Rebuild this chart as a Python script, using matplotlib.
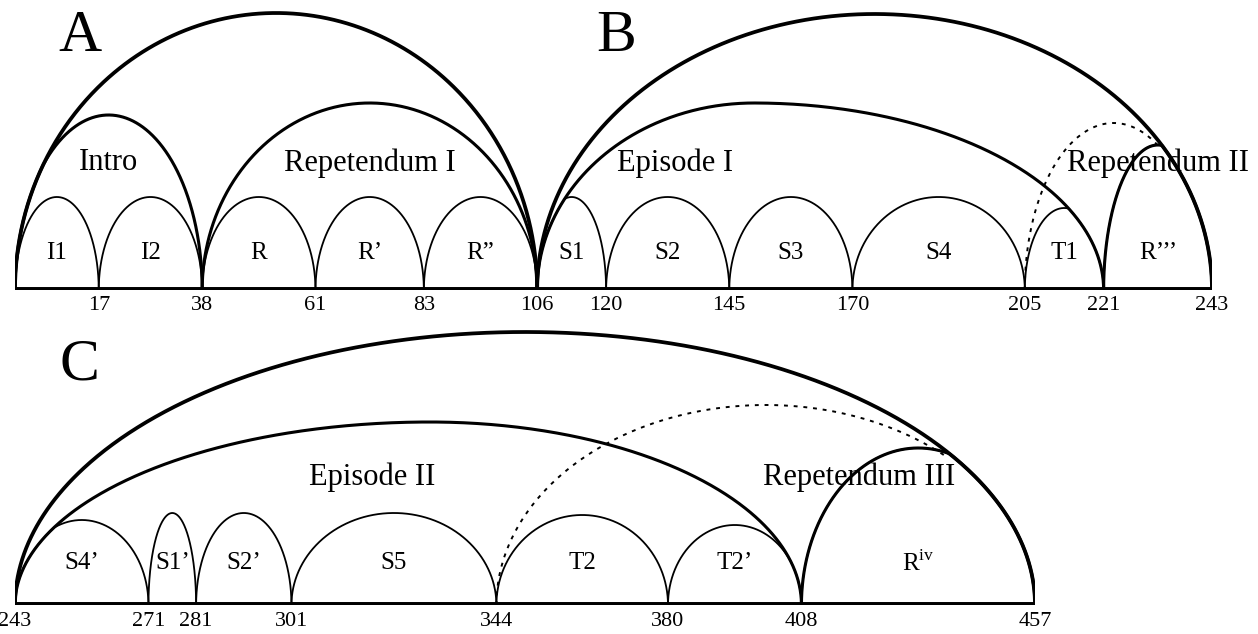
import numpy as np
import matplotlib.pyplot as plt

plt.rcParams['font.family'] = ['Liberation Serif', 'DejaVu Serif']
plt.rcParams['mathtext.fontset'] = 'custom'
plt.rcParams['mathtext.rm'] = 'Liberation Serif'

# ---- panels A/B : measures 0-243 ----
top_bounds = [0, 17, 38, 61, 83, 106, 120, 145, 170, 205, 221, 243]
top_small_labels = ['I1', 'I2', 'R', 'R’', 'R”', 'S1', 'S2', 'S3', 'S4', 'T1', 'R’’’']
top_small_heights = [93, 93, 93, 93, 93, 93, 93, 93, 93, 82, 145]
top_tick_labels = ['17', '38', '61', '83', '106', '120', '145', '170', '205', '221', '243']

top_sec_names = ['Intro', 'Repetendum I', 'Episode I', 'Repetendum II']
top_sec_start = [0, 38, 106, 221]
top_sec_end = [38, 106, 221, 243]
top_sec_height = [175, 187, 187, 145]
top_sec_apex = [19, 72, 150, 232]
top_sec_label_x = [19, 72, 134, 232]

top_outer_start = [0, 106]
top_outer_end = [106, 243]
top_outer_height = [277, 276]

top_dash = (205, 223, 167, 232)  # start, apex measure, apex height, end

# ---- panel C : measures 243-457 ----
bot_bounds = [243, 271, 281, 301, 344, 380, 408, 457]
bot_small_labels = ['S4’', 'S1’', 'S2’', 'S5', 'T2', 'T2’', 'R$^{\\mathrm{iv}}$']
bot_small_heights = [85, 92, 92, 92, 90, 80, 157]
bot_tick_labels = ['243', '271', '281', '301', '344', '380', '408', '457']

bot_sec_names = ['Episode II', 'Repetendum III']
bot_sec_start = [243, 408]
bot_sec_end = [408, 457]
bot_sec_height = [183, 157]
bot_sec_apex = [330, 432.5]
bot_sec_label_x = [318, 420]

bot_outer_start = [243]
bot_outer_end = [457]
bot_outer_height = [273]

bot_dash = (344, 400.5, 200, 438.5)


def arc_y(x, s, e, h, p=None):
    if p is None:
        p = (s + e) / 2
    a = np.where(x < p, p - s, e - p)
    return h * np.sqrt(np.clip(1 - ((x - p) / a) ** 2, 0, None))


def arc_x(s, e, p=None, n=600):
    if p is None:
        p = (s + e) / 2
    t = np.linspace(0, np.pi, n)
    c = np.cos(t)
    return np.where(c > 0, p - (p - s) * c, p - (e - p) * c)


def enclosing(s, e, starts, ends, heights, apexes=None):
    if apexes is None:
        apexes = [None] * len(starts)
    for s2, e2, h2, p2 in zip(starts, ends, heights, apexes):
        if s2 <= s and e <= e2:
            return s2, e2, h2, p2
    return None


def draw_row(ax, bounds, small_labels, small_heights, ticks, sec_names, sec_start,
             sec_end, sec_height, sec_apex, sec_lx, out_start, out_end, out_height,
             dash, small_ly, sec_ly):
    for s, e, h in zip(out_start, out_end, out_height):
        x = arc_x(s, e)
        ax.plot(x, arc_y(x, s, e, h), color='black', lw=2.7)
    for s, e, h, p, name, lx in zip(sec_start, sec_end, sec_height, sec_apex,
                                    sec_names, sec_lx):
        x = arc_x(s, e, p)
        y = arc_y(x, s, e, h, p)
        par = enclosing(s, e, out_start, out_end, out_height)
        if par:
            y = np.minimum(y, arc_y(x, *par))
        ax.plot(x, y, color='black', lw=2.2)
        ax.text(lx, sec_ly, name, ha='center', va='center', fontsize=22)
    for s, e, h, lab in zip(bounds[:-1], bounds[1:], small_heights, small_labels):
        x = arc_x(s, e)
        y = arc_y(x, s, e, h)
        par = enclosing(s, e, sec_start, sec_end, sec_height, sec_apex)
        if par:
            y = np.minimum(y, arc_y(x, *par))
        par = enclosing(s, e, out_start, out_end, out_height)
        if par:
            y = np.minimum(y, arc_y(x, *par))
        ax.plot(x, y, color='black', lw=1.3)
        ax.text((s + e) / 2, small_ly, lab, ha='center', va='center', fontsize=18)
    # dotted connector
    s, c, h, end = dash
    a = c - s
    t_end = np.arccos((c - end) / a)
    td = np.linspace(0, t_end, 300)
    ax.plot(c - a * np.cos(td), h * np.sin(td), color='black', lw=1.4,
            linestyle=(0, (2, 3)))
    # baseline and measure numbers
    ax.plot([bounds[0], bounds[-1]], [0, 0], color='black', lw=5,
            solid_capstyle='butt')
    for xp, lab in zip(bounds[-len(ticks):], ticks):
        ax.text(xp, -16, lab, ha='center', va='center', fontsize=16, clip_on=False)
    ax.set_xlim(bounds[0], bounds[-1])
    ax.set_ylim(0, 290)
    ax.axis('off')


fig = plt.figure(figsize=(12.58, 6.34), dpi=100)
W, H = 1258, 634
ax_top = fig.add_axes([15 / W, 1 - 290 / H, (1212 - 15) / W, 290 / H])
ax_bot = fig.add_axes([15 / W, 1 - 605 / H, (1035 - 15) / W, 290 / H])
for ax in (ax_top, ax_bot):
    ax.patch.set_alpha(0)

draw_row(ax_top, top_bounds, top_small_labels, top_small_heights, top_tick_labels,
         top_sec_names, top_sec_start, top_sec_end, top_sec_height, top_sec_apex,
         top_sec_label_x, top_outer_start, top_outer_end, top_outer_height,
         top_dash, 37, 127)
draw_row(ax_bot, bot_bounds, bot_small_labels, bot_small_heights, bot_tick_labels,
         bot_sec_names, bot_sec_start, bot_sec_end, bot_sec_height, bot_sec_apex,
         bot_sec_label_x, bot_outer_start, bot_outer_end, bot_outer_height,
         bot_dash, 42, 128)

ax_top.text(13.2, 253, 'A', ha='center', va='center', fontsize=43)
ax_top.text(122, 253, 'B', ha='center', va='center', fontsize=43)
ax_bot.text(256.6, 239, 'C', ha='center', va='center', fontsize=43)

fig.savefig('out.png', dpi=100)
